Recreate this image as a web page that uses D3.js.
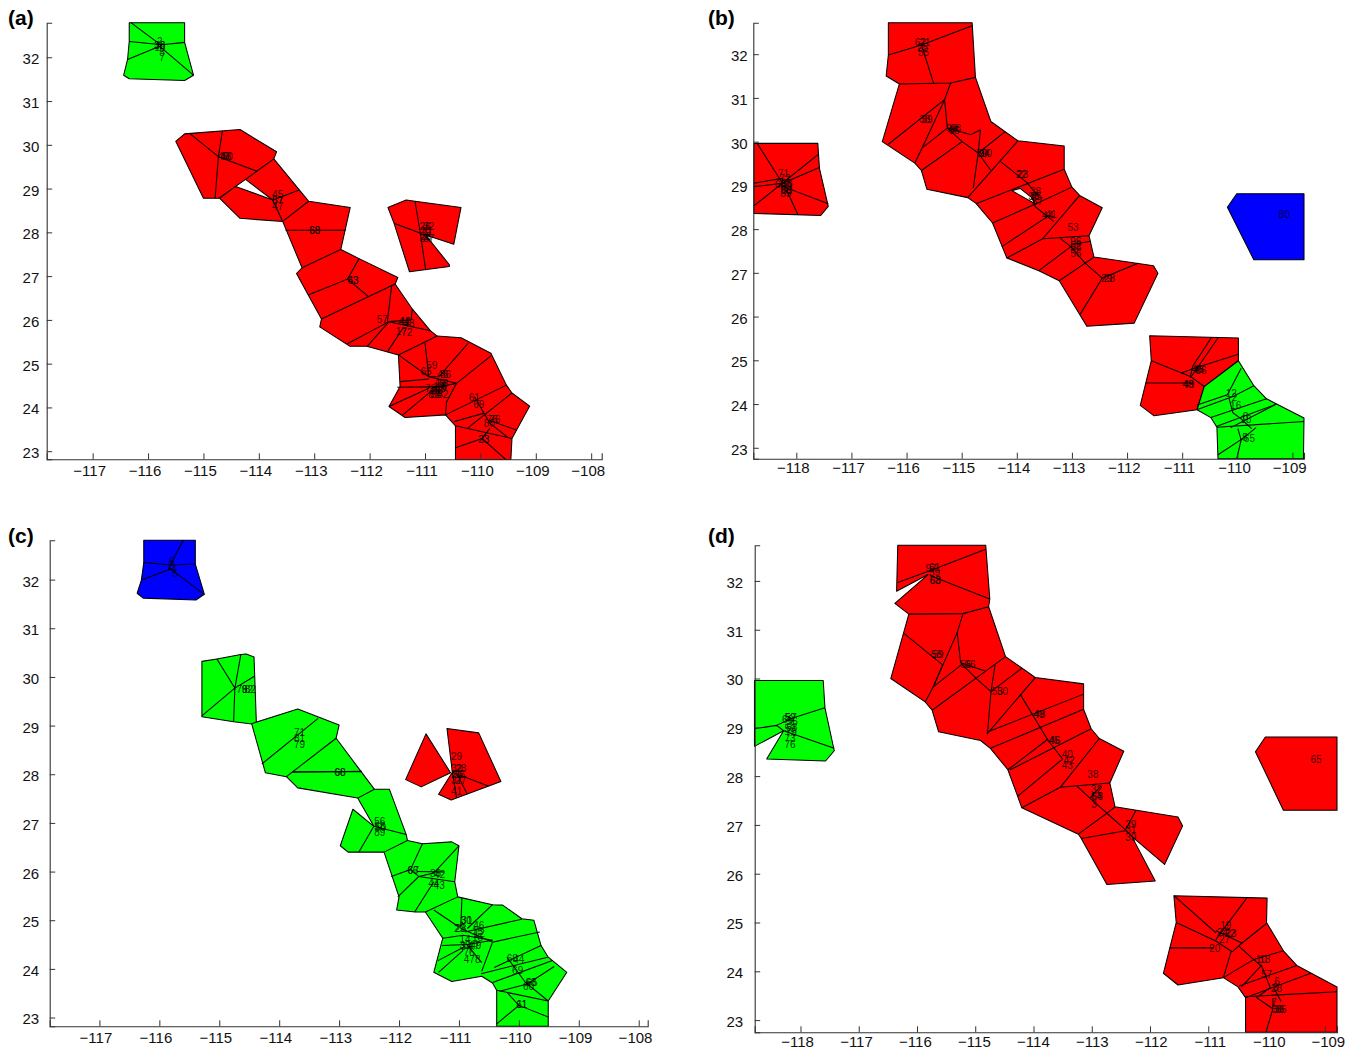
<!DOCTYPE html>
<html><head><meta charset="utf-8">
<style>html,body{margin:0;padding:0;background:#fff}svg{display:block}</style>
<script src="https://cdn.jsdelivr.net/npm/d3@7/dist/d3.min.js"></script>
</head><body><svg id="c" width="1355" height="1048"></svg>
<script>
// ---------- data: polygons in (longitude, latitude) ----------
const RED="#ff0000",GREEN="#00ff00",BLUE="#0000ff";
const lonTicksAC=[-117,-116,-115,-114,-113,-112,-111,-110,-109,-108];
const lonTicksBD=[-118,-117,-116,-115,-114,-113,-112,-111,-110,-109];
const latTicks=[23,24,25,26,27,28,29,30,31,32];

const regionsA=[
 [GREEN,[[-116.34,32.79],[-115.34,32.79],[-115.34,32.34],[-115.18,31.59],[-115.34,31.47],[-116.34,31.51],[-116.44,31.59],[-116.37,31.95],[-116.34,32.36]]],
 [RED,[[-115.50,30.08],[-115.34,30.25],[-114.34,30.35],[-113.68,29.84],[-113.73,29.68],[-113.27,28.97],[-113.10,28.71],[-112.35,28.57],[-112.52,27.61],[-112.19,27.40],[-111.49,26.97],[-111.54,26.82],[-111.23,26.25],[-110.90,25.75],[-110.78,25.63],[-110.35,25.59],[-109.81,25.24],[-109.53,24.51],[-109.43,24.33],[-109.11,24.03],[-109.43,23.29],[-109.45,22.81],[-110.45,22.81],[-110.45,23.58],[-110.63,23.83],[-111.36,23.77],[-111.65,24.02],[-111.45,24.48],[-111.48,25.20],[-112.05,25.40],[-112.36,25.40],[-112.90,25.84],[-112.87,26.02],[-113.32,27.06],[-113.22,27.19],[-113.57,28.25],[-114.34,28.32],[-114.71,28.78],[-114.42,29.05],[-113.75,28.74],[-114.24,29.21],[-114.72,28.78],[-115.00,28.78]]],
 [RED,[[-111.67,28.57],[-111.34,28.74],[-111.18,28.71],[-110.35,28.57],[-110.48,27.73],[-110.99,27.94],[-110.56,27.26],[-110.56,27.22],[-111.28,27.10],[-111.56,28.21]]]
];
const edgesA=[
 [[-116.31,32.79],[-115.79,32.30]],[[-116.34,32.36],[-115.79,32.29]],[[-115.34,32.34],[-115.79,32.28]],[[-116.37,31.95],[-115.79,32.25]],[[-115.18,31.59],[-115.79,32.25]],
 [[-115.25,30.26],[-114.73,29.73]],[[-114.66,30.30],[-114.73,29.73],[-114.79,28.78]],[[-114.73,29.73],[-114.04,29.40]],[[-113.73,29.68],[-114.24,29.21]],
 [[-113.75,28.74],[-113.27,28.97]],[[-113.75,28.74],[-113.57,28.25]],[[-113.57,28.25],[-113.10,28.71]],[[-113.52,28.05],[-112.43,28.05]],[[-113.22,27.19],[-112.52,27.61]],
 [[-113.11,26.57],[-112.40,26.93],[-112.19,27.40]],[[-112.40,26.93],[-112.02,26.53]],[[-112.87,26.02],[-111.54,26.82]],[[-111.60,26.80],[-111.68,25.96]],
 [[-112.41,25.45],[-111.65,25.96]],[[-112.04,25.40],[-111.65,25.96]],[[-111.68,25.27],[-111.40,25.81]],[[-111.65,25.96],[-110.90,25.75]],[[-111.65,25.96],[-111.25,26.00],[-111.23,26.25]],
 [[-111.48,25.20],[-110.78,25.63]],[[-111.00,25.47],[-110.93,24.70]],[[-111.48,25.20],[-110.93,24.70]],[[-110.22,25.47],[-110.75,24.70],[-110.93,24.70]],[[-110.93,24.70],[-110.43,24.55]],
 [[-111.45,24.59],[-110.93,24.65]],[[-111.50,24.46],[-110.90,24.47]],[[-111.65,24.02],[-110.93,24.44]],[[-111.40,23.83],[-110.86,24.40]],[[-110.43,24.55],[-110.61,24.13],[-110.63,23.83]],
 [[-110.43,24.55],[-109.81,25.18]],[[-110.43,24.55],[-110.90,24.44]],[[-110.63,23.83],[-109.53,24.51]],[[-110.47,23.68],[-109.93,23.87]],[[-110.22,23.54],[-109.43,24.33]],[[-110.45,23.58],[-109.43,23.29]],
 [[-110.11,24.25],[-109.83,23.64],[-109.51,23.32]],[[-109.83,23.70],[-109.36,23.49]],[[-110.45,23.08],[-109.97,23.29],[-109.83,23.52]],[[-109.97,23.29],[-109.54,22.81]],
 [[-111.18,28.71],[-111.08,27.94],[-110.99,27.16]],[[-111.56,28.21],[-111.08,27.98]]
];
const labelsA=[["2",-115.79,32.37],["38",-115.79,32.28],["36",-115.79,32.26],["16",-115.79,32.22],["5",-115.75,32.11],["7",-115.75,32.00],
 ["45",-113.66,28.87],["87",-113.66,28.74],["57",-113.66,28.72],["47",-113.66,28.60],["40",-114.64,29.73],["48",-114.60,29.73],["50",-114.57,29.73],
 ["68",-112.99,28.04],["69",-112.99,28.04],["63",-112.30,26.91],["43",-112.30,26.91],
 ["26",-111.00,28.13],["32",-110.93,28.13],["20",-111.00,28.02],["21",-110.96,28.02],["34",-111.00,27.86],["37",-110.93,27.86],["35",-110.98,27.90],
 ["57",-111.77,26.00],["44",-111.38,25.96],["42",-111.36,25.96],["48",-111.29,25.92],["17",-111.43,25.73],["72",-111.33,25.71],
 ["59",-110.88,24.97],["65",-110.98,24.83],["46",-110.68,24.76],["86",-110.63,24.75],["15",-110.72,24.55],["18",-110.68,24.55],["14",-110.75,24.47],["16",-110.70,24.47],["78",-110.90,24.44],["79",-110.83,24.38],["83",-110.78,24.38],["81",-110.84,24.30],["84",-110.80,24.30],["82",-110.68,24.30],["19",-110.72,24.43],
 ["61",-110.11,24.22],["69",-110.03,24.06],["75",-109.79,23.73],["76",-109.74,23.73],["80",-109.84,23.64],["33",-109.94,23.27],["23",-109.94,23.27]];

const regionsB=[
 [RED,[[-118.77,29.96],[-117.61,29.96],[-117.58,29.39],[-117.42,28.52],[-117.56,28.31],[-118.77,28.36]]],
 [RED,[[-116.33,32.72],[-114.81,32.72],[-114.75,31.47],[-114.47,30.46],[-113.98,30.02],[-113.14,29.90],[-113.14,29.37],[-113.00,28.96],[-112.86,28.77],[-112.45,28.49],[-112.69,27.85],[-112.60,27.36],[-111.52,27.16],[-111.44,26.99],[-111.87,25.85],[-112.73,25.78],[-113.23,26.82],[-113.60,27.05],[-114.18,27.34],[-114.44,28.14],[-114.74,28.59],[-114.89,28.72],[-115.63,28.91],[-115.73,29.34],[-115.85,29.51],[-116.44,30.00],[-116.13,31.32],[-116.37,31.50],[-116.33,31.98]]],
 ["#ffffff",[[-114.09,28.88],[-113.94,28.93],[-113.74,28.73],[-113.67,28.58]]],
 [RED,[[-111.59,25.56],[-109.98,25.51],[-109.98,24.99],[-110.60,24.40],[-110.73,23.87],[-111.51,23.73],[-111.76,23.97],[-111.56,24.99]]],
 [GREEN,[[-109.98,24.99],[-109.70,24.42],[-109.47,24.12],[-108.79,23.68],[-108.80,22.75],[-110.35,22.75],[-110.37,23.47],[-110.48,23.69],[-110.73,23.87],[-110.60,24.40]]],
 [BLUE,[[-110.01,28.81],[-108.79,28.81],[-108.79,27.30],[-109.70,27.30],[-110.18,28.50]]]
];
const edgesB=[
 [[-118.71,29.96],[-118.25,29.05]],[[-117.61,29.70],[-118.25,29.05]],[[-117.58,29.41],[-118.25,29.05]],[[-117.42,28.58],[-118.21,28.96]],[[-118.77,29.05],[-118.25,29.16]],[[-118.77,28.97],[-118.25,29.05]],[[-118.77,28.53],[-118.25,29.05]],[[-117.97,28.33],[-118.18,28.90]],
 [[-116.33,31.98],[-115.73,32.21],[-114.81,32.65]],[[-115.73,32.21],[-115.51,31.34]],[[-116.13,31.32],[-115.20,31.34],[-114.75,31.47]],[[-115.20,31.34],[-115.31,30.96],[-115.26,30.31]],
 [[-115.31,30.96],[-115.72,29.85]],[[-115.31,30.96],[-116.33,29.94]],[[-115.72,29.85],[-115.26,30.31]],[[-115.26,30.31],[-114.83,30.16]],[[-115.26,30.31],[-114.99,30.00],[-114.70,29.74]],
 [[-114.66,30.27],[-114.70,29.74],[-114.79,28.94]],[[-114.83,30.16],[-114.66,30.27]],[[-114.99,30.00],[-115.73,29.34]],[[-115.85,29.51],[-115.72,29.85]],[[-114.21,30.23],[-114.70,29.74]],[[-113.98,30.02],[-114.89,28.72]],
 [[-114.70,29.74],[-114.47,29.34]],[[-114.30,29.55],[-113.82,29.07],[-113.63,28.78]],[[-113.14,29.37],[-114.74,28.58]],[[-113.00,28.96],[-113.63,28.59]],[[-113.63,28.59],[-114.44,28.14]],
 [[-113.71,28.75],[-113.67,28.52],[-113.33,28.17]],[[-113.44,28.29],[-114.27,27.60]],[[-112.86,28.77],[-113.53,27.78]],[[-113.53,27.78],[-114.18,27.34]],[[-113.53,27.78],[-112.69,27.85]],
 [[-113.21,27.79],[-113.02,27.60],[-112.76,27.22],[-113.23,26.82]],[[-113.02,27.60],[-113.60,27.05]],[[-113.02,27.64],[-112.66,27.72]],[[-112.60,27.36],[-112.76,27.22]],
 [[-112.76,27.22],[-112.45,26.88],[-111.80,27.22]],[[-112.45,26.88],[-112.85,26.05]],
 [[-111.56,24.99],[-110.85,24.63],[-110.60,24.40]],[[-111.66,24.48],[-110.80,24.48]],[[-110.85,24.63],[-110.81,24.86],[-110.47,25.52]],[[-111.02,24.71],[-110.78,24.82],[-109.98,25.14]],[[-110.35,25.51],[-110.85,24.60]],
 [[-109.93,24.82],[-110.18,24.21],[-110.73,23.98]],[[-109.70,24.42],[-110.08,24.17],[-110.71,23.88]],[[-110.48,23.69],[-109.47,24.12]],[[-110.37,23.49],[-109.29,24.00]],[[-110.08,23.80],[-109.93,23.66],[-109.74,23.44]],
 [[-110.15,24.13],[-110.08,23.80]],[[-110.37,23.47],[-108.79,23.60]],[[-110.12,23.46],[-109.32,23.98]],[[-109.99,23.44],[-109.93,23.18],[-110.01,22.75]],[[-110.35,22.84],[-109.89,23.22]],[[-109.66,23.46],[-109.93,23.18]]
];
const labelsB=[["71",-118.23,29.28],["72",-118.21,29.15],["67",-118.19,29.05],["63",-118.17,29.05],["66",-118.29,29.03],["59",-118.18,28.97],["60",-118.20,28.97],["68",-118.19,28.88],["69",-118.17,28.88],["85",-118.19,28.81],
 ["62",-115.75,32.27],["21",-115.67,32.27],["25",-115.71,32.16],["55",-115.69,32.04],["38",-115.67,30.50],["39",-115.63,30.50],["99",-115.18,30.31],["98",-115.11,30.31],["95",-115.14,30.26],
 ["50",-114.63,29.74],["90",-114.55,29.74],["94",-114.59,29.74],["22",-113.92,29.26],["23",-113.89,29.26],["38",-113.66,28.86],["36",-113.69,28.75],["35",-113.65,28.75],["37",-113.63,28.63],["44",-113.44,28.31],["41",-113.38,28.33],
 ["53",-112.98,28.04],["96",-112.93,27.72],["58",-112.93,27.59],["52",-112.93,27.62],["56",-112.93,27.45],["29",-112.37,26.88],["28",-112.32,26.88],["46",-110.73,24.80],["45",-110.70,24.80],["86",-110.66,24.77],["48",-110.90,24.46],["49",-110.88,24.46],
 ["12",-110.11,24.25],["2",-110.05,24.16],["16",-110.03,23.97],["8",-109.85,23.71],["18",-109.84,23.64],["5",-109.86,23.23],["65",-109.78,23.21],["80",-109.15,28.34]];

const regionsC=[
 [BLUE,[[-116.26,32.81],[-115.40,32.81],[-115.40,32.32],[-115.25,31.70],[-115.39,31.58],[-116.27,31.62],[-116.37,31.72],[-116.30,31.99],[-116.26,32.35]]],
 [GREEN,[[-115.29,30.32],[-115.04,30.37],[-114.64,30.46],[-114.55,30.47],[-114.42,30.41],[-114.38,29.02],[-114.76,29.08],[-115.29,29.18]]],
 [GREEN,[[-114.46,29.04],[-113.69,29.34],[-113.00,29.01],[-113.05,28.74],[-112.63,28.05],[-112.41,27.69],[-112.16,27.69],[-111.88,26.76],[-111.86,26.64],[-111.61,26.57],[-111.12,26.61],[-111.00,26.53],[-111.07,25.79],[-111.02,25.48],[-110.44,25.32],[-110.27,25.31],[-109.95,25.03],[-109.75,25.00],[-109.63,24.48],[-109.51,24.24],[-109.20,23.93],[-109.51,23.34],[-109.51,22.82],[-110.37,22.82],[-110.37,23.56],[-110.44,23.71],[-110.62,23.85],[-111.12,23.74],[-111.42,23.93],[-111.27,24.63],[-111.56,25.17],[-111.73,25.17],[-112.04,25.21],[-112.00,25.48],[-112.25,26.40],[-112.85,26.40],[-112.98,26.53],[-112.77,27.28],[-112.42,26.93],[-112.69,27.51],[-113.69,27.72],[-113.88,27.95],[-114.23,28.03]]],
 [RED,[[-111.55,28.83],[-111.14,28.03],[-111.63,27.74],[-111.89,27.89]]],
 [RED,[[-111.20,28.94],[-110.67,28.85],[-110.30,27.85],[-111.13,27.47],[-111.34,27.59],[-111.11,28.04]]]
];
const edgesC=[
 [[-115.60,32.81],[-115.81,32.32],[-115.85,32.20]],[[-116.26,32.35],[-115.81,32.30],[-115.40,32.32]],[[-116.30,31.99],[-115.81,32.22]],[[-115.81,32.22],[-115.25,31.69]],
 [[-115.04,30.37],[-114.74,29.77],[-114.64,30.46]],[[-114.74,29.77],[-114.42,30.01]],[[-114.74,29.77],[-115.29,29.20]],[[-114.74,29.77],[-114.76,29.08]],
 [[-113.35,29.15],[-114.29,28.21]],[[-113.05,28.74],[-113.88,27.95]],[[-113.78,28.05],[-112.62,28.05]],[[-113.78,28.04],[-112.62,28.06]],[[-112.69,27.51],[-112.41,27.69]],
 [[-112.42,26.93],[-111.88,26.76]],[[-112.42,26.93],[-112.67,26.40]],[[-112.25,26.40],[-111.86,26.64]],[[-112.13,25.90],[-111.81,26.04],[-111.61,26.57]],[[-111.81,26.04],[-111.67,25.90],[-112.02,25.48]],
 [[-111.67,25.90],[-111.42,25.97],[-111.00,26.53]],[[-111.70,26.00],[-111.25,25.99]],[[-111.67,25.90],[-111.07,25.79]],[[-111.74,25.17],[-111.42,25.79]],[[-111.56,25.17],[-111.02,25.48]],
 [[-111.42,25.21],[-111.00,24.86]],[[-110.95,25.46],[-110.97,24.86]],[[-110.44,25.32],[-110.86,24.83]],[[-109.95,25.02],[-110.90,24.76]],[[-109.65,24.76],[-110.44,24.55],[-110.62,23.95]],[[-110.97,24.83],[-110.44,24.55]],
 [[-111.27,24.63],[-110.93,24.69],[-110.44,24.59]],[[-111.28,24.48],[-110.86,24.50],[-110.44,24.59]],[[-111.35,24.17],[-110.90,24.46]],[[-111.34,23.93],[-110.93,24.38]],[[-110.62,24.13],[-110.86,24.49]],
 [[-110.63,23.90],[-109.52,24.24]],[[-110.44,23.72],[-109.44,24.17]],[[-110.41,24.03],[-109.63,24.48]],[[-110.20,24.24],[-109.89,23.72],[-109.51,23.34]],[[-110.32,23.54],[-109.86,23.69],[-109.41,24.05]],[[-110.37,23.56],[-109.51,23.34]],
 [[-110.20,23.52],[-110.00,23.25],[-110.37,22.87]],[[-110.00,23.25],[-109.51,23.01]],
 [[-111.11,28.04],[-110.51,27.76]],[[-111.11,28.04],[-111.04,27.52]],[[-111.03,28.00],[-110.86,27.59]]
];
const labelsC=[["9",-115.79,32.37],["2",-115.81,32.29],["4",-115.76,32.22],["5",-115.74,32.13],["78",-114.62,29.75],["92",-114.53,29.75],["82",-114.48,29.75],
 ["71",-113.66,28.86],["81",-113.66,28.74],["79",-113.66,28.61],["66",-112.99,28.04],["68",-112.98,28.04],["56",-112.32,27.04],["58",-112.32,26.92],["50",-112.31,26.90],["89",-112.32,26.80],
 ["66",-111.77,26.02],["67",-111.76,26.02],["38",-111.39,25.97],["42",-111.32,25.95],["44",-111.42,25.75],["43",-111.33,25.71],
 ["29",-111.04,28.36],["32",-111.04,28.12],["28",-110.97,28.12],["25",-110.99,28.00],["26",-111.03,28.00],["37",-111.04,27.87],["27",-110.97,27.87],["41",-111.04,27.64],
 ["30",-110.88,25.00],["31",-110.87,25.00],["29",-110.99,24.84],["28",-110.97,24.84],["46",-110.67,24.89],["15",-110.69,24.78],["12",-110.66,24.72],["16",-110.69,24.65],["14",-110.90,24.60],["49",-110.72,24.48],["47",-110.75,24.48],["35",-110.90,24.48],["34",-110.88,24.46],["76",-110.83,24.34],["478",-110.78,24.20],
 ["68",-110.11,24.22],["44",-110.00,24.20],["69",-110.02,23.96],["63",-109.80,23.73],["65",-109.78,23.73],["60",-109.84,23.65],["61",-109.95,23.27],["11",-109.95,23.27]];

const regionsD=[
 [GREEN,[[-118.79,29.96],[-117.61,29.96],[-117.58,29.40],[-117.42,28.52],[-117.57,28.31],[-118.58,28.35],[-118.29,28.93],[-118.79,28.61]]],
 [RED,[[-116.33,32.73],[-114.82,32.73],[-114.75,31.63],[-114.77,31.47],[-114.48,30.45],[-113.97,30.02],[-113.14,29.89],[-113.14,29.37],[-113.01,28.97],[-112.87,28.77],[-112.45,28.51],[-112.69,27.86],[-112.60,27.37],[-111.52,27.16],[-111.44,26.98],[-111.75,26.19],[-112.31,26.76],[-111.91,25.85],[-112.74,25.78],[-113.18,26.72],[-113.23,26.81],[-114.20,27.35],[-114.44,28.13],[-114.74,28.57],[-114.91,28.73],[-115.63,28.91],[-115.74,29.35],[-115.86,29.52],[-116.45,30.00],[-116.14,31.32],[-116.38,31.54],[-115.81,32.13],[-116.35,31.79]]],
 [RED,[[-111.59,25.55],[-109.99,25.50],[-110.00,25.00],[-109.71,24.42],[-109.48,24.12],[-108.79,23.68],[-108.79,22.75],[-110.36,22.75],[-110.36,23.46],[-110.49,23.68],[-110.74,23.87],[-111.52,23.72],[-111.77,23.96],[-111.66,24.48],[-111.55,25.00]]],
 [RED,[[-110.02,28.80],[-108.79,28.80],[-108.79,27.30],[-109.71,27.30],[-110.19,28.50]]]
];
const edgesD=[
 [[-118.79,28.97],[-118.41,29.04],[-118.29,28.93]],[[-118.41,29.04],[-118.16,29.18],[-117.58,29.40]],[[-118.29,28.93],[-117.42,28.57]],
 [[-116.33,31.97],[-115.78,32.21],[-114.82,32.65]],[[-115.78,32.11],[-114.75,31.63]],[[-116.14,31.32],[-115.21,31.33],[-114.77,31.47]],[[-115.21,31.33],[-115.31,30.94],[-115.25,30.32]],
 [[-115.31,30.94],[-115.72,29.83],[-115.86,29.52]],[[-116.22,30.92],[-115.56,30.28],[-115.72,29.83]],[[-115.25,30.32],[-114.84,30.16]],[[-115.72,29.83],[-115.23,30.29],[-114.98,30.00]],[[-114.48,30.45],[-115.74,29.35]],
 [[-114.98,30.00],[-114.73,29.73]],[[-114.66,30.28],[-114.73,29.73],[-114.79,28.88]],[[-114.20,30.21],[-114.73,29.73]],[[-113.97,30.02],[-114.80,28.86]],[[-114.22,29.66],[-113.75,28.73]],
 [[-113.14,29.68],[-114.80,28.90]],[[-113.14,29.37],[-114.74,28.57]],[[-113.01,28.97],[-114.40,28.13]],[[-113.75,28.76],[-114.44,28.13]],[[-113.75,28.73],[-113.50,28.35]],[[-112.87,28.77],[-113.54,27.77]],
 [[-113.50,28.35],[-114.27,27.59]],[[-113.54,27.77],[-114.20,27.35]],[[-113.54,27.77],[-112.69,27.86]],[[-113.25,27.79],[-113.03,27.55],[-112.74,27.24],[-113.23,26.81]],[[-112.85,27.79],[-113.03,27.55]],
 [[-112.60,27.37],[-112.74,27.24],[-112.42,26.90]],[[-112.24,27.30],[-112.42,26.90],[-112.31,26.76]],[[-113.18,26.72],[-112.42,26.88]],
 [[-111.59,25.55],[-110.87,24.79]],[[-110.34,25.50],[-110.87,24.65]],[[-111.55,25.00],[-110.87,24.62],[-110.59,24.40]],[[-111.66,24.48],[-110.90,24.48]],[[-110.61,24.40],[-110.74,23.87]],[[-110.59,24.40],[-110.42,24.58],[-110.00,24.98]],
 [[-110.87,24.83],[-110.42,24.58]],[[-110.47,24.51],[-110.22,24.24],[-110.08,24.10],[-109.93,23.65]],[[-110.22,24.24],[-109.71,24.42]],[[-110.74,23.87],[-110.22,24.24]],[[-110.47,23.70],[-109.48,24.12]],[[-110.43,23.68],[-110.08,24.13]],
 [[-110.36,23.46],[-109.24,23.96]],[[-110.17,23.46],[-109.93,23.67]],[[-110.36,23.48],[-108.79,23.58]],[[-110.17,23.46],[-109.89,23.23]],[[-109.89,23.43],[-109.89,23.23],[-110.01,22.75]],[[-109.86,23.63],[-109.75,23.38]]
];
const labelsD=[["52",-118.18,29.21],["57",-118.16,29.21],["66",-118.22,29.16],["56",-118.14,29.13],["59",-118.18,28.98],["58",-118.15,29.00],["79",-118.16,28.89],["73",-118.18,28.77],["76",-118.18,28.64],
 ["61",-115.70,32.28],["97",-115.76,32.25],["59",-115.70,32.17],["63",-115.69,32.01],["68",-115.68,32.01],["58",-115.67,30.49],["59",-115.64,30.49],["55",-115.16,30.29],["66",-115.09,30.29],["53",-114.62,29.74],["50",-114.53,29.73],
 ["49",-113.91,29.26],["48",-113.89,29.26],["45",-113.65,28.73],["46",-113.63,28.73],["40",-113.42,28.45],["42",-113.39,28.33],["43",-113.42,28.21],["38",-112.98,28.04],["32",-112.92,27.73],["64",-112.92,27.59],["68",-112.90,27.59],["3",-112.96,27.43],
 ["29",-112.33,27.02],["31",-112.33,26.90],["39",-112.33,26.74],["19",-110.70,24.94],["24",-110.76,24.79],["23",-110.61,24.77],["22",-110.63,24.77],["27",-110.72,24.65],["20",-110.89,24.47],["10",-110.09,24.24],["13",-110.03,24.24],["57",-110.00,23.94],
 ["6",-109.82,23.80],["28",-109.83,23.65],["8",-109.85,23.67],["7",-109.87,23.37],["30",-109.82,23.22],["35",-109.75,23.22],["36",-109.79,23.22],["65",-109.15,28.35]];

// ---------- layout ----------
const panels=[
 {tag:"(a)",tagX:8,tagY:25,l:46.7,r:601.7,t:22.7,b:459.3,lon:[-117.83,-107.81],lat:[22.815,32.79],ticks:lonTicksAC,xPad:6,yPad:7.4,shift:[-3.5,-3.5],regions:regionsA,edges:edgesA,labels:labelsA},
 {tag:"(b)",tagX:708,tagY:25,l:753.3,r:1304,t:22.7,b:458.7,lon:[-118.78,-108.79],lat:[22.75,32.72],ticks:lonTicksBD,xPad:4,yPad:5.6,shift:[-3.5,-3.2],regions:regionsB,edges:edgesB,labels:labelsB},
 {tag:"(c)",tagX:8,tagY:543,l:49.7,r:647.7,t:540.2,b:1026.3,lon:[-117.83,-107.85],lat:[22.82,32.81],ticks:lonTicksAC,xPad:5.75,yPad:10.5,shift:[-4,-3.7],regions:regionsC,edges:edgesC,labels:labelsC},
 {tag:"(d)",tagX:708,tagY:543,l:754.7,r:1337,t:545.3,b:1032.3,lon:[-118.786,-108.79],lat:[22.75,32.73],ticks:lonTicksBD,xPad:4,yPad:11.5,shift:[-3.5,3],regions:regionsD,edges:edgesD,labels:labelsD}
];
const svg=d3.select("#c");
const fontTick="'Liberation Sans',Arial,sans-serif";
const fmt=d=>d<0?"\u2212"+Math.abs(d):""+d;

panels.forEach(p=>{
 const x=d3.scaleLinear().domain(p.lon).range([p.l,p.r]);
 const y=d3.scaleLinear().domain(p.lat).range([p.b,p.t]);
 const line=d3.line().x(d=>x(d[0])).y(d=>y(d[1]));
 const g=svg.append("g");
 g.selectAll("path.region").data(p.regions).join("path").attr("class","region")
  .attr("d",d=>line(d[1])+"Z").attr("fill",d=>d[0]).attr("stroke","#000").attr("stroke-width",1.05).attr("stroke-linejoin","round");
 g.selectAll("path.edge").data(p.edges).join("path").attr("class","edge")
  .attr("d",line).attr("fill","none").attr("stroke","#000").attr("stroke-width",1.05);
 g.selectAll("text.lab").data(p.labels).join("text").attr("class","lab")
  .attr("x",d=>x(d[1])).attr("y",d=>y(d[2])).attr("text-anchor","middle").attr("dy","0.36em")
  .attr("font-family",fontTick).attr("font-size",10).attr("fill","#000").attr("fill-opacity",0.8).text(d=>d[0]);
 const ax=g.append("g").attr("transform",`translate(0,${p.b})`)
  .call(d3.axisBottom(x).tickValues(p.ticks).tickFormat(fmt).tickSize(-6).tickPadding(p.xPad));
 const ay=g.append("g").attr("transform",`translate(${p.l},0)`)
  .call(d3.axisLeft(y).tickValues(latTicks).tickFormat(fmt).tickSize(-5.5).tickPadding(p.yPad));
 [ax,ay].forEach(a=>{
  a.select(".domain").attr("stroke","#333").attr("stroke-width",1.1);
  a.selectAll(".tick line").attr("stroke","#333");
  a.selectAll("text").attr("font-family",fontTick).attr("font-size",15).attr("fill","#111");
 });
 ax.selectAll(".tick text").attr("dx",(d,i)=>p.shift[0]+(p.shift[1]-p.shift[0])*i/(p.ticks.length-1));
 ay.selectAll(".tick text").attr("dy","0.43em");
 svg.append("text").attr("x",p.tagX).attr("y",p.tagY).text(p.tag)
  .attr("font-family",fontTick).attr("font-weight","bold").attr("font-size",21).attr("fill","#000");
});
</script></body></html>
